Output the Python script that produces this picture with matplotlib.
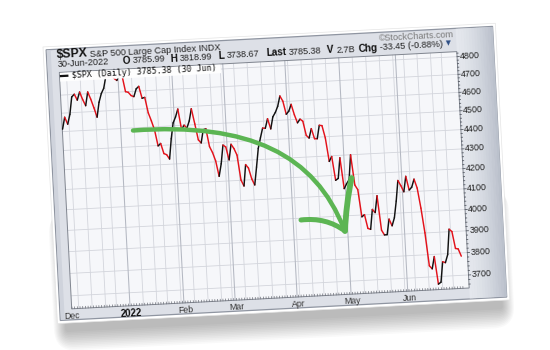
import numpy as np
import pandas as pd
import matplotlib
matplotlib.use("Agg")
import matplotlib.pyplot as plt
from matplotlib.transforms import Affine2D, blended_transform_factory
from matplotlib.collections import LineCollection
from matplotlib.patches import Rectangle, FancyBboxPatch, PathPatch
from matplotlib.path import Path

# ---------------- data: $SPX daily closes ----------------
dec_2021 = [4513.04, 4577.10, 4538.43, 4591.67, 4686.75, 4701.21, 4667.45, 4712.02, 4668.97, 4634.09,
            4709.85, 4668.67, 4620.64, 4568.02, 4649.23, 4696.56, 4725.79, 4791.19, 4786.35, 4793.06,
            4778.73, 4766.18]
jan_2022 = [4796.56, 4793.54, 4700.58, 4696.05, 4677.03, 4670.29, 4713.07, 4726.35, 4659.03, 4662.85,
            4577.11, 4532.76, 4482.73, 4397.94, 4410.13, 4356.45, 4349.93, 4326.51, 4431.85, 4515.55]
feb_2022 = [4546.54, 4589.38, 4477.44, 4500.53, 4483.87, 4521.54, 4587.18, 4504.08, 4418.64, 4401.67,
            4471.07, 4475.01, 4380.26, 4348.87, 4304.76, 4225.50, 4288.70, 4384.65, 4373.94]
mar_2022 = [4306.26, 4386.54, 4363.49, 4328.87, 4201.09, 4170.70, 4277.88, 4259.52, 4204.31, 4173.11,
            4262.45, 4357.86, 4411.67, 4463.12, 4461.18, 4511.61, 4456.24, 4520.16, 4543.06, 4575.52,
            4631.60, 4602.45, 4530.41]
apr_2022 = [4545.86, 4582.64, 4525.12, 4481.15, 4500.21, 4488.28, 4412.53, 4397.45, 4446.59, 4392.59,
            4391.69, 4462.21, 4459.45, 4393.66, 4271.78, 4296.12, 4175.20, 4183.96, 4287.50, 4131.93]
may_2022 = [4155.38, 4175.48, 4300.17, 4146.87, 4123.34, 3991.24, 4001.05, 3935.18, 3930.08, 4023.89,
            4008.01, 4088.85, 3923.68, 3900.79, 3901.36, 3973.75, 3941.48, 3978.73, 4057.84, 4158.24,
            4132.15]
jun_2022 = [4101.23, 4176.82, 4108.54, 4121.43, 4160.68, 4115.77, 4017.82, 3900.86, 3749.63, 3735.48,
            3789.99, 3666.77, 3674.84, 3764.79, 3759.89, 3795.73, 3911.74, 3900.11, 3821.55, 3818.83,
            3785.38]
market_holidays = ["2021-12-24", "2022-01-17", "2022-02-21", "2022-04-15", "2022-05-30", "2022-06-20"]

y_ticks = [3700, 3800, 3900, 4000, 4100, 4200, 4300, 4400, 4500, 4600, 4700, 4800]
month_labels = ["Dec", "2022", "Feb", "Mar", "Apr", "May", "Jun"]

title_symbol = "$SPX"
title_name = "S&P 500 Large Cap Index INDX"
date_text = "30-Jun-2022"
ohlc_parts = [("O", "3785.99"), ("H", "3818.99"), ("L", "3738.67"),
              ("Last", "3785.38"), ("V", "2.7B"), ("Chg", "-33.45 (-0.88%)")]
legend_text = "$SPX (Daily) 3785.38 (30 Jun)"
credit_text = "\u00a9StockCharts.com"

closes = dec_2021 + jan_2022 + feb_2022 + mar_2022 + apr_2022 + may_2022 + jun_2022
dates = pd.bdate_range("2021-12-01", "2022-06-30")
dates = dates[~dates.isin(pd.to_datetime(market_holidays))]
idx = np.arange(len(closes))

# ---------------- figure ----------------
W, H = 550, 350
fig = plt.figure(figsize=(5.5, 3.5), dpi=100)
fig.patch.set_facecolor("white")

bg = fig.add_axes([0, 0, 1, 1])
bg.set_xlim(0, W)
bg.set_ylim(0, H)
bg.axis("off")

ANG = 3.0
rot = Affine2D().rotate_deg_around(275, 175, ANG)
T = bg.transData + rot

# card geometry (unrotated pixel frame)
CL, CB, CW, CH = 50, 38, 453, 277
PL, PB, PW, PH = 65, 52, 398, 236.7

# shadow (mostly below the card)
for i in range(12):
    pad = 1 + i * 1.7
    bg.add_patch(FancyBboxPatch((CL - pad * 0.6 + 8, CB - pad - 8), CW - 16 + 1.2 * pad, CH * 0.5,
                                boxstyle=f"round,pad=0,rounding_size={pad + 2}",
                                transform=T, fc="black", ec="none", alpha=0.024))
# white card + grey panel
bg.add_patch(Rectangle((CL, CB), CW, CH, transform=T, fc="white", ec="#e4e4e4", lw=0.5))
bg.add_patch(Rectangle((CL + 3, CB + 3), CW - 6, CH - 6, transform=T, fc="#dde0e7", ec="#8f95a1", lw=0.9))
# right side gradient
xr0, xr1 = PL + PW, CL + CW - 3
n = 14
c0 = np.array([0xe4, 0xe7, 0xed]) / 255
c1 = np.array([0xbb, 0xc1, 0xcc]) / 255
for k in range(n):
    x = xr0 + (xr1 - xr0) * k / n
    c = c0 + (c1 - c0) * (k / (n - 1)) ** 1.5
    bg.add_patch(Rectangle((x, CB + 3.5), (xr1 - xr0) / n + 0.3, CH - 7, transform=T, fc=c, ec="none"))
# left bevel
bg.add_patch(Rectangle((CL + 3.5, CB + 3.5), 4, CH - 7, transform=T, fc="#cfd3dc", ec="none"))
# plot area
bg.add_patch(Rectangle((PL, PB), PW, PH, transform=T, fc="#f6f7fa", ec="none"))

# header text
FS = "Liberation Sans"
def htext(x, y, s, **kw):
    kw.setdefault("family", FS)
    bg.text(x, y, s, transform=T, rotation=ANG, rotation_mode="anchor", va="center", ha="left", **kw)

L1, L2 = 305.5, 296.5
htext(63.0, L1 + 0.3, title_symbol, fontsize=8.8, fontweight="bold", color="#111111")
htext(95.9, L1, title_name, fontsize=6.6, color="#222222")
bg.text(461, L1 + 0.5, credit_text, transform=T, rotation=ANG, rotation_mode="anchor",
        va="center", ha="right", fontsize=6.5, family=FS, color="#7a7a7a")
htext(63.4, L2, date_text, fontsize=6.6, color="#222222")
label_x = [128.3, 176.4, 224.8, 272.6, 333.6, 364.6]
value_x = [138.6, 186.2, 232.8, 295.2, 342.7, 386.6]
for (lab, val), lx, vx in zip(ohlc_parts, label_x, value_x):
    htext(lx, L2 + 0.3, lab, fontsize=7.2, fontweight="bold", color="#111111")
    htext(vx, L2, val, fontsize=6.6, color="#222222")
bg.text(452.5, L2 + 1.0, "\u25bc", transform=T, rotation=ANG, rotation_mode="anchor",
        va="center", ha="left", fontsize=4.8, family="DejaVu Sans", color="#2f4f86")

# ---------------- chart axes ----------------
cax = fig.add_axes([PL / W, PB / H, PW / W, PH / H])
cax.set_yscale("log")
cax.set_autoscale_on(False)
cax.set_xlim(-0.1, 147.3)
cax.set_ylim(3643, 4829)
cax.axis("off")
TD = cax.transData + rot
TXB = blended_transform_factory(cax.transData, bg.transData) + rot   # x data, y pixels
TBY = blended_transform_factory(bg.transData, cax.transData) + rot   # x pixels, y data
x0, x1 = cax.get_xlim()
y0, y1 = cax.get_ylim()

# gridlines
for v in y_ticks:
    cax.plot([x0, x1], [v, v], transform=TD, color="#d3d5dc", lw=0.6, clip_on=False, zorder=1)
month_start = [0] + [i for i in range(1, len(dates)) if dates[i].month != dates[i - 1].month]
week_start = [i for i in range(1, len(dates)) if dates[i].weekday() < dates[i - 1].weekday()]
for i in week_start:
    if i in month_start:
        continue
    cax.plot([i - 0.5, i - 0.5], [y0, y1], transform=TD, color="#d3d5dc", lw=0.6, clip_on=False, zorder=1)
for i in month_start[1:]:
    cax.plot([i - 0.5, i - 0.5], [y0, y1], transform=TD, color="#b4b8c2", lw=0.75, clip_on=False, zorder=1)

# plot frame
cax.add_patch(Rectangle((PL, PB), PW, PH, transform=T, fc="none", ec="#80858f", lw=0.7,
                        zorder=2, clip_on=False))

# daily ticks along bottom
for i in idx:
    cax.plot([i, i], [PB, PB + 1.8], transform=TXB, color="#6d7079", lw=0.5, clip_on=False, zorder=2)
# right-edge ticks
for v in range(3660, 4830, 20):
    ln = 2.2 if v % 100 == 0 else 1.2
    cax.plot([PL + PW, PL + PW + ln], [v, v], transform=TBY, color="#555a63", lw=0.6, clip_on=False, zorder=2)

# price line, coloured by direction
pts = np.column_stack([idx, closes])
segs = np.stack([pts[:-1], pts[1:]], axis=1)
cols = ["#111111" if closes[i + 1] >= closes[i] else "#e3121b" for i in range(len(closes) - 1)]
lc = LineCollection(segs, colors=cols, linewidths=1.05, transform=TD, zorder=3,
                    capstyle="round", joinstyle="round")
cax.add_collection(lc, autolim=False)
lc.set_clip_on(False)

# legend
cax.add_patch(Rectangle((PL + 0.5, 279.5), 161, PH + PB - 279.5 - 0.5, transform=T,
                        fc="white", ec="none", alpha=0.97, zorder=4, clip_on=False))
cax.plot([66.5, 72.8], [285.0, 285.0], transform=T, color="#111111", lw=1.6, clip_on=False, zorder=5)
cax.text(77.3, 284.8, legend_text, transform=T, rotation=ANG, rotation_mode="anchor", va="center",
         ha="left", fontsize=6.05, family="DejaVu Sans Mono", color="#111111", zorder=5, clip_on=False)

# y tick labels
for v in y_ticks:
    cax.text(PL + PW + 2.8, v, f"{v}", transform=TBY, rotation=ANG, rotation_mode="anchor",
             va="center", ha="left", fontsize=6.4, family=FS, color="#1e1e1e", clip_on=False)
# x labels
for i, lab in zip(month_start, month_labels):
    bold = lab == "2022"
    cax.text(i, 44.7, lab, transform=TXB, rotation=ANG, rotation_mode="anchor", va="center",
             ha="center", fontsize=6.9 if bold else 6.3, family=FS,
             fontweight="bold" if bold else "normal", color="#111111" if bold else "#333333",
             clip_on=False)

# ---------------- green annotation arrow (image pixel coords) ----------------
top = fig.add_axes([0, 0, 1, 1])
top.set_xlim(0, W)
top.set_ylim(H, 0)
top.axis("off")
green = "#5cb553"
curve = Path([(133, 130.5), (250, 122), (315, 155), (344, 229)],
             [Path.MOVETO, Path.CURVE4, Path.CURVE4, Path.CURVE4])
top.add_patch(PathPatch(curve, fc="none", ec=green, lw=3.2, capstyle="round"))
barb_l = Path([(301, 220), (326, 217), (345, 231)], [Path.MOVETO, Path.CURVE3, Path.CURVE3])
barb_r = Path([(351.5, 178), (346, 205), (345, 231)], [Path.MOVETO, Path.CURVE3, Path.CURVE3])
top.add_patch(PathPatch(barb_l, fc="none", ec=green, lw=3.6, capstyle="round"))
top.add_patch(PathPatch(barb_r, fc="none", ec=green, lw=4.2, capstyle="round"))

fig.savefig("out.png", dpi=100)
